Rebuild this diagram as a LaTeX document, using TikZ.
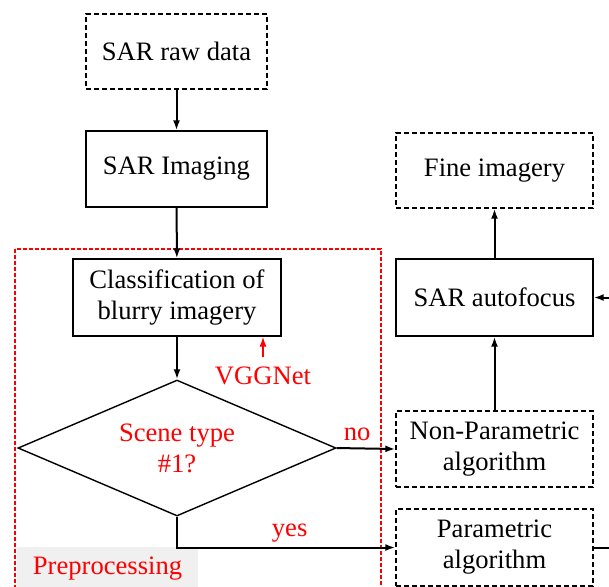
\documentclass[tikz,border=0pt]{standalone}
\usepackage{fontspec}
\setmainfont{Liberation Serif}
\usetikzlibrary{shapes.geometric,arrows.meta}
\newcommand\myfs{\fontsize{13.3}{15.5}\selectfont}
\begin{document}
\begin{tikzpicture}[x=0.5pt,y=-0.5pt,
  every node/.style={font=\myfs},
  sbox/.style={draw, line width=0.7pt, inner sep=0pt, align=center},
  dbox/.style={sbox, dash pattern=on 2.5pt off 1.5pt},
  arr/.style={line width=1pt, -{Latex[length=5pt,width=3.5pt]}},
  lbl/.style={text=red, inner sep=0pt, anchor=base}]
\useasboundingbox (0,0) rectangle (609,586);
\clip (0,0) rectangle (609,586);
% preprocessing frame
\draw[red, line width=0.6pt, dash pattern=on 2pt off 1pt] (15,249) rectangle (381,600);
\node[fill=black!6, minimum width=90.5pt, minimum height=21.5pt, inner sep=0pt, text=red] (pre) at (107.5,568.5) {Preprocessing};
% left column
\node[dbox, minimum width=90.5pt, minimum height=37.5pt] (raw) at (176.5,51.5) {SAR raw data};
\node[sbox, minimum width=90.5pt, minimum height=38pt] (img) at (176.5,169) {SAR Imaging};
\node[sbox, minimum width=104pt, minimum height=38.5pt] (cls) at (177,297.5) {Classification of\\blurry imagery};
\node[draw, diamond, aspect=2.34, minimum width=159pt, minimum height=68pt, inner sep=0pt, line width=0.7pt, align=center, text=red] (dia) at (177,448) {Scene type\\\#1?};
\node[text=red, inner sep=0pt] (vgg) at (263,376) {VGGNet};
% right column
\node[dbox, minimum width=98.5pt, minimum height=37.5pt] (fine) at (494.5,170.5) {Fine imagery};
\node[sbox, minimum width=98.5pt, minimum height=38.5pt] (auto) at (494.5,297.5) {SAR autofocus};
\node[dbox, minimum width=98.5pt, minimum height=38pt] (np) at (494.5,449) {Non-Parametric\\algorithm};
\node[dbox, minimum width=98.5pt, minimum height=38.5pt] (par) at (494.5,547.5) {Parametric\\algorithm};
\coordinate (r1) at (615,547.5);
\coordinate (r2) at (615,297.5);
% connectors
\draw[arr] (raw) -- (img);
\draw[arr] (img) -- (cls);
\draw[arr] (cls) -- (dia);
\draw[arr, red, line width=0.7pt] ([yshift=5pt]vgg.north) -- (vgg.north |- cls.south);
\draw[arr] (dia.east) -- node[lbl, pos=0.35, yshift=4pt] {no} (np.west);
\draw[arr] (dia.south) -- (dia.south |- par.west) -- node[lbl, pos=0.516, yshift=5.5pt] {yes} (par.west);
\draw[arr] (np) -- (auto);
\draw[arr] (auto) -- (fine);
\draw[line width=1pt] (par.east) -- (r1);
\draw[arr] (r2) -- (auto.east);
\end{tikzpicture}
\end{document}
